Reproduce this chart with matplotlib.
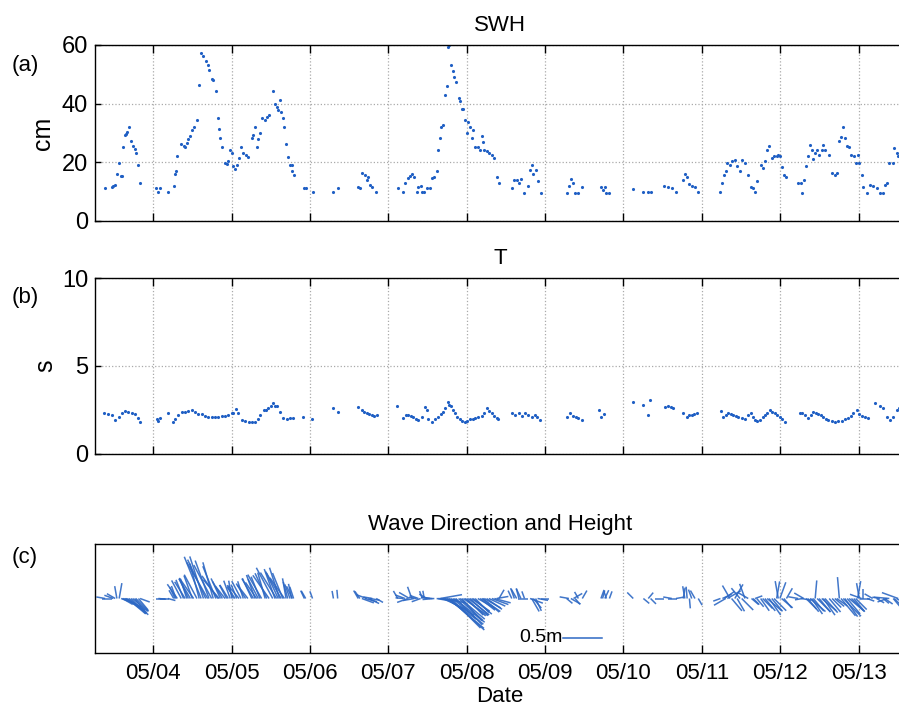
import numpy as np
import pandas as pd
import matplotlib
matplotlib.use('Agg')
import matplotlib.pyplot as plt
import matplotlib.dates as mdates
from matplotlib.collections import LineCollection

plt.rcParams['font.family'] = ['Liberation Sans', 'DejaVu Sans']
plt.rcParams['font.size'] = 16

start = pd.Timestamp('2010-05-03')

# significant wave height: hours since 05/03 00:00 and value in cm
swh_hours = [
    9.3, 11.3, 11.8, 12.4, 12.9, 13.6, 14.2, 14.6, 14.9, 15.4, 15.7, 16.1, 16.6, 17.2, 17.7, 18.3, 18.7, 19.5, 20.0,
    24.9, 25.6, 26.2, 28.5, 30.3, 30.7, 31.0, 31.4, 32.6, 33.3, 33.8, 34.3, 34.8, 35.4, 36.0, 36.4, 37.4,
    38.1, 38.7, 39.4, 40.1, 40.7, 41.1, 41.9, 42.4, 43.2, 43.8, 44.2, 44.6, 45.2,
    46.0, 46.5, 47.0, 47.6, 48.1, 48.6, 49.1, 49.6, 50.3, 50.9, 51.6, 52.3, 53.0,
    54.2, 54.7, 55.2, 55.7, 56.2, 56.7, 57.2, 58.3, 58.8, 59.5,
    60.6, 61.3, 61.8, 62.3, 62.7, 63.2, 63.7, 64.2, 64.7, 65.2, 65.9, 66.4, 66.6, 67.0,
    70.3, 70.7, 72.8,
    79.2, 80.5,
    86.8, 87.3, 87.9, 88.9, 89.4, 89.9, 90.4, 91.1, 92.3,
    98.9, 100.6, 101.1, 102.0, 102.5, 103.2, 104.0, 104.7, 105.2, 105.9, 106.4, 107.0, 107.8, 108.8, 109.5, 110.1, 110.8,
    111.3, 111.9, 112.2, 112.7, 113.4, 113.9, 114.4, 114.7, 115.2, 115.7, 116.2, 116.7, 117.5, 118.0, 118.5,
    119.0, 119.5, 120.0, 120.5, 121.0, 121.5, 122.0, 122.6, 123.4, 124.1, 124.6, 125.0, 125.4, 126.1, 126.8,
    127.7, 128.5, 129.2, 129.9,
    133.8, 134.6, 135.3, 136.0, 136.6, 137.7, 138.7, 139.4, 139.9, 140.4, 141.1, 141.7, 142.8,
    150.6, 151.3, 151.9, 152.7, 153.2, 154.2, 155.4,
    161.1, 161.6, 162.3, 162.8, 163.7,
    171.0, 174.1, 175.6, 176.3,
    180.5, 181.7, 182.8, 184.1, 186.3, 186.8, 187.5, 188.2, 188.9, 189.9, 190.9,
    197.7, 198.3, 198.9, 199.3, 199.8, 200.6, 201.1, 202.1, 202.8, 203.7, 204.2, 205.2, 206.2, 207.2, 207.7,
    208.3, 208.8, 210.0, 210.6, 211.3, 212.0, 212.6, 213.4, 214.1, 214.9, 215.4, 215.9, 216.4, 217.1, 217.9,
    221.5, 222.5, 222.8, 223.2, 223.9, 224.4, 225.1, 225.6, 226.1, 226.7, 227.3, 227.9, 228.7, 229.2, 229.7,
    231.0, 231.9, 232.7, 233.3, 234.1, 234.6, 235.3, 235.8, 236.5, 237.1, 237.8, 238.5, 239.1, 239.7, 240.2,
    240.9, 241.4, 242.6, 243.4, 244.3, 245.5, 246.5, 247.5, 248.0, 248.7, 249.4, 250.6, 250.9, 251.6, 252.1, 253.0,
]
swh_cm = [
    11.4, 11.7, 12.1, 12.3, 16.0, 19.9, 15.4, 15.2, 25.1, 29.3, 29.8, 30.5, 32.2, 27.4, 25.4, 24.4, 23.1, 19.1, 13.1,
    11.4, 10.0, 11.4, 10.0, 12.1, 15.9, 17.0, 22.2, 26.1, 25.7, 25.2, 26.5, 28.0, 29.0, 31.0, 31.9, 34.4,
    46.2, 57.4, 56.4, 54.7, 53.2, 51.5, 48.3, 48.0, 44.4, 35.2, 31.3, 28.2, 25.1,
    19.9, 19.5, 20.3, 24.2, 23.1, 18.8, 17.6, 19.1, 21.4, 25.1, 23.1, 22.5, 21.7,
    28.4, 29.3, 31.9, 25.1, 28.0, 30.0, 35.2, 34.4, 35.5, 36.1,
    44.4, 39.9, 39.0, 37.8, 41.3, 37.3, 35.0, 32.2, 26.1, 21.9, 19.1, 19.1, 17.2, 15.7,
    11.1, 11.1, 9.8,
    9.8, 11.1,
    11.7, 11.1, 16.3, 15.7, 14.0, 15.1, 12.3, 11.7, 10.0,
    11.1, 10.0, 13.1, 14.6, 15.4, 15.9, 15.1, 10.0, 11.7, 12.1, 10.0, 10.0, 11.1, 11.1, 14.6, 15.1, 17.2,
    24.2, 28.2, 31.9, 32.7, 43.0, 46.0, 59.2, 60.0, 53.2, 51.2, 49.2, 47.3, 41.8, 41.0, 38.1,
    38.1, 34.4, 29.9, 33.9, 31.9, 28.2, 31.0, 25.1, 25.1, 24.2, 29.0, 27.0, 24.2, 24.0, 23.1,
    22.5, 21.4, 15.1, 12.9,
    11.1, 14.0, 14.0, 12.9, 14.2, 9.7, 12.0, 17.4, 19.1, 15.9, 17.4, 13.6, 9.7,
    9.7, 12.0, 14.2, 12.9, 9.7, 9.7, 11.7,
    11.7, 10.6, 11.7, 9.7, 9.7,
    10.9, 9.8, 9.8, 9.8,
    12.1, 11.5, 11.1, 9.8, 14.0, 15.9, 15.1, 12.6, 12.1, 11.7, 9.8,
    9.8, 12.9, 15.7, 17.2, 19.7, 19.1, 20.6, 20.8, 18.8, 17.2, 20.8, 19.9, 15.7, 11.7, 11.1,
    9.8, 13.8, 19.1, 18.0, 20.6, 24.2, 25.6, 21.4, 22.0, 22.2, 22.5, 22.0, 18.5, 15.7, 15.1,
    12.9, 12.9, 9.7, 14.0, 18.8, 22.0, 25.9, 24.2, 21.0, 23.1, 24.2, 22.5, 24.2, 25.9, 24.2,
    22.5, 16.3, 15.7, 16.3, 27.4, 28.8, 31.9, 28.2, 25.6, 25.3, 22.5, 22.0, 19.9, 22.5, 19.9,
    15.7, 11.7, 9.7, 12.3, 11.9, 11.1, 9.7, 9.7, 12.3, 12.9, 19.9, 19.9, 24.8, 23.1, 22.0, 20.5,
]
# direction of each stick in panel (c), degrees counter-clockwise from east
wave_dir = [
    170, 180, 160, 150, 100, 80, -20, -30, -25, -30, -35, -40, -40, -45, -40, -50, -45, -50, -20,
    0, -5, 0, -15, 120, 115, 110, 125, 118, 112, 122, 108, 115, 120, 110, 125, 118,
    105, 112, 108, 115, 120, 110, 118, 106, 112, 125, 130, 115, 120,
    128, 118, 122, 110, 100, 115, 125, 112, 130, 118, 108, 122, 128,
    115, 120, 110, 125, 118, 112, 120, 106, 115, 125,
    118, 110, 122, 115, 108, 120, 112, 125, 100, 105, 110, 102, 115, 108,
    115, 120, 110,
    100, 95,
    120, 125, -20, -15, 160, -25, -10, 170, -30,
    120, 175, 160, 200, 150, 110, 190, 170, 160, 200, 110, 100, 150, 170, 175, 185, -10,
    -5, 10, -10, -25, -30, -35, -40, -42, -45, -40, -38, -45, -42, -40, -48,
    -35, -40, -45, -38, -42, -35, -40, -45, -30, -38, -35, -40, -30, -35, -25,
    -20, -15, 10, 60,
    115, 110, 120, 105, 115, 110, 180, -20, -60, -50, -65, -10, 0,
    -40, 170, -30, 30, -50, 120, 60,
    70, 75, 65, 110, 70,
    135, -40, 50, -45,
    180, 0, 170, 10, 80, 100, 95, -85, 110, 120, -60,
    200, 25, 35, 210, 30, 120, -50, 60, -60, 130, -45, 110, 150, -40, -45,
    20, -50, -55, -45, -50, -40, -55, -50, -45, 80, 100, 70, -40, -50, 60,
    170, -10, 190, 150, -45, -50, -40, -55, -50, 85, -45, -50, -40, -55, -48,
    -50, -45, -40, -35, 95, -50, -45, -55, -50, -40, -45, -50, -45, 80, 100,
    160, 90, -20, 180, 150, -30, 170, -40, -35, 200, 175, -50, -45, -30, 160, -40,
]

# wave period
t_hours = [
    9.1, 10.3, 11.3, 12.4, 13.4, 14.4, 15.4, 16.4, 17.5, 18.5, 19.3, 20.0,
    25.1, 25.6, 26.1, 28.7,
    30.2, 30.7, 31.7, 32.8, 33.8, 34.8, 35.8, 36.8, 37.8, 38.9, 39.9, 40.9, 41.9, 42.9, 43.9,
    45.0, 46.0, 47.0, 48.1, 48.6, 49.3, 50.1, 51.1, 52.1, 53.2, 54.2, 55.2, 56.0, 56.7, 57.8,
    58.5, 59.3, 60.1, 60.8, 61.3, 61.8, 62.9, 63.9, 64.9, 65.9, 66.9,
    70.0, 72.5,
    79.2, 80.7,
    86.8, 87.8, 88.6, 89.4, 90.1, 90.9, 91.7, 92.4,
    98.6, 100.6, 101.3, 102.1, 102.9, 103.7, 104.5, 105.2, 106.2, 107.2, 107.7, 108.2, 109.3, 110.3, 111.3,
    112.0, 112.8, 113.5, 114.2, 114.7, 115.2, 115.8, 116.4, 117.1, 117.9, 118.7, 119.5, 120.2, 121.0, 121.8,
    122.5, 123.5, 124.6, 125.4, 126.1, 126.8, 127.6, 128.4, 129.2, 129.7,
    133.8, 134.8, 135.9, 136.9, 137.9, 138.9, 139.9, 140.8, 141.5, 142.5,
    150.6, 151.7, 152.7, 153.5, 154.2, 155.4,
    160.5, 161.1, 161.9,
    171.0, 174.1, 175.6, 176.1,
    180.7, 181.7, 182.5, 183.3, 186.3, 187.4, 188.2, 188.9, 189.7, 190.4,
    197.9, 198.6, 199.4, 200.1, 200.9, 201.6, 202.4, 203.2, 204.2, 205.2, 206.2, 207.2, 207.8,
    208.3, 209.0, 209.8, 210.6, 211.3, 212.1, 212.9, 213.6, 214.4, 215.1, 215.9, 216.6, 217.4,
    222.0, 222.8, 223.6, 224.6, 225.3, 226.1, 226.8, 227.6, 228.4, 229.2, 230.0, 230.7, 231.7,
    232.7, 233.7, 234.8, 235.8, 236.8, 237.6, 238.4, 239.4, 240.2, 240.9, 241.9, 242.9,
    245.0, 246.5, 247.5, 248.6, 249.6, 250.6, 251.6, 252.5,
]
t_sec = [
    2.35, 2.30, 2.20, 1.93, 2.12, 2.31, 2.46, 2.40, 2.35, 2.30, 2.03, 1.84,
    1.97, 1.90, 2.03, 2.31,
    1.84, 2.00, 2.20, 2.40, 2.40, 2.45, 2.50, 2.40, 2.30, 2.25, 2.18, 2.12, 2.12, 2.10, 2.12,
    2.15, 2.18, 2.22, 2.31, 2.35, 2.55, 2.31, 1.93, 1.90, 1.84, 1.84, 1.84, 2.00, 2.22, 2.50,
    2.50, 2.60, 2.70, 2.88, 2.75, 2.70, 2.40, 2.06, 2.00, 2.03, 2.06,
    2.08, 1.97,
    2.60, 2.40,
    2.65, 2.50, 2.40, 2.31, 2.25, 2.20, 2.18, 2.20,
    2.73, 2.03, 2.20, 2.22, 2.18, 2.12, 2.00, 1.93, 2.08, 2.69, 2.50, 1.97, 1.84, 2.00, 2.12,
    2.25, 2.40, 2.60, 2.97, 2.80, 2.75, 2.50, 2.31, 2.10, 1.97, 1.90, 1.84, 1.90, 1.97, 2.00,
    2.03, 2.10, 2.16, 2.35, 2.60, 2.45, 2.31, 2.15, 2.03, 1.97,
    2.31, 2.20, 2.31, 2.15, 2.35, 2.20, 2.12, 2.20, 2.12, 1.93,
    2.12, 2.35, 2.15, 2.10, 2.05, 1.93,
    2.50, 2.12, 2.30,
    2.97, 2.78, 2.22, 3.07,
    2.69, 2.75, 2.65, 2.60, 2.31, 2.12, 2.20, 2.22, 2.30, 2.35,
    2.46, 2.08, 2.20, 2.31, 2.25, 2.22, 2.15, 2.12, 2.05, 1.97, 2.20, 2.35, 2.10,
    1.93, 1.90, 1.93, 2.10, 2.20, 2.35, 2.50, 2.40, 2.31, 2.20, 2.10, 1.97, 1.84,
    2.31, 2.35, 2.20, 2.03, 2.20, 2.40, 2.35, 2.30, 2.20, 2.12, 2.00, 1.93, 1.88,
    1.84, 1.86, 1.90, 1.97, 2.03, 2.15, 2.31, 2.50, 2.30, 2.15, 2.10, 2.03,
    2.88, 2.73, 2.60, 2.12, 1.93, 2.12, 2.50, 2.60,
]

assert len(swh_hours) == len(swh_cm) == len(wave_dir)
assert len(t_hours) == len(t_sec)

# x range in hours since 05/03 00:00, reference bar for panel (c)
x_range_h = (6.2, 254.2)
scale_bar_h = 149.5
scale_bar_m = 0.5

def to_time(h):
    return start + pd.to_timedelta(np.asarray(h, dtype=float), unit='h')

swh_time = to_time(swh_hours)
t_time = to_time(t_hours)
xlim = (mdates.date2num(to_time([x_range_h[0]])[0]), mdates.date2num(to_time([x_range_h[1]])[0]))

blue = '#1f5fc4'
grid_kw = dict(color='#aaaaaa', linestyle=':', linewidth=0.9)

fig = plt.figure(figsize=(8.99, 7.09), dpi=100)
W, H = 899, 709
ax1 = fig.add_axes([95 / W, 1 - 221 / H, 810 / W, 176 / H])
ax2 = fig.add_axes([95 / W, 1 - 454 / H, 810 / W, 176 / H])
ax3 = fig.add_axes([95 / W, 1 - 653 / H, 810 / W, 109 / H])

def style(ax):
    ax.set_xlim(xlim)
    ax.xaxis.set_major_locator(mdates.DayLocator())
    ax.xaxis.set_major_formatter(mdates.DateFormatter('%m/%d'))
    ax.tick_params(axis='x', direction='in', length=6, width=1, top=True, pad=7, labelsize=16)
    ax.tick_params(axis='y', direction='in', length=4, width=1, right=True, pad=5, labelsize=17)
    for sp in ax.spines.values():
        sp.set_linewidth(1.0)
    ax.set_axisbelow(True)

# (a) SWH
ax1.plot(swh_time, swh_cm, '.', color=blue, ms=4.5, mew=0)
style(ax1)
ax1.set_ylim(0, 60)
ax1.set_yticks([0, 20, 40, 60])
ax1.grid(True, **grid_kw)
ax1.tick_params(axis='x', labelbottom=False)
ax1.set_title('SWH', fontsize=16, pad=10)
ax1.set_ylabel('cm', fontsize=18)
ax1.yaxis.set_label_coords(-0.049, 0.5)

# (b) period
ax2.plot(t_time, t_sec, '.', color=blue, ms=4.5, mew=0)
style(ax2)
ax2.set_ylim(0, 10)
ax2.set_yticks([0, 5, 10])
ax2.grid(True, **grid_kw)
ax2.tick_params(axis='x', labelbottom=False)
ax2.set_title('T', fontsize=16, pad=10)
ax2.set_ylabel('s', fontsize=18)
ax2.yaxis.set_label_coords(-0.047, 0.5)

# (c) stick plot, 1 m of wave height drawn as 1 day on the x axis
x0 = mdates.date2num(swh_time)
L = np.asarray(swh_cm) / 100.0
th = np.deg2rad(wave_dir)
segs = np.stack([np.column_stack([x0, np.zeros_like(x0)]),
                 np.column_stack([x0 + L * np.cos(th), L * np.sin(th)])], axis=1)
ax3.add_collection(LineCollection(segs, colors='#2d68c4', linewidths=1.1, alpha=0.9))
style(ax3)
ax3.set_ylim(-0.695, 0.695)
ax3.set_yticks([])
ax3.grid(True, axis='x', **grid_kw)
ax3.set_title('Wave Direction and Height', fontsize=16, pad=10)
ax3.set_xlabel('Date', fontsize=16, labelpad=2)

sb = mdates.date2num(to_time([scale_bar_h])[0])
ax3.plot([sb, sb + scale_bar_m], [-scale_bar_m, -scale_bar_m], color='#2d68c4', lw=1.1)
ax3.text(sb, -scale_bar_m, '0.5m', ha='right', va='center', fontsize=14)

for lab, yy in [('(a)', 65), ('(b)', 298), ('(c)', 557)]:
    fig.text(12 / W, 1 - yy / H, lab, fontsize=16, va='center', ha='left')

fig.savefig('out.png', dpi=100)
